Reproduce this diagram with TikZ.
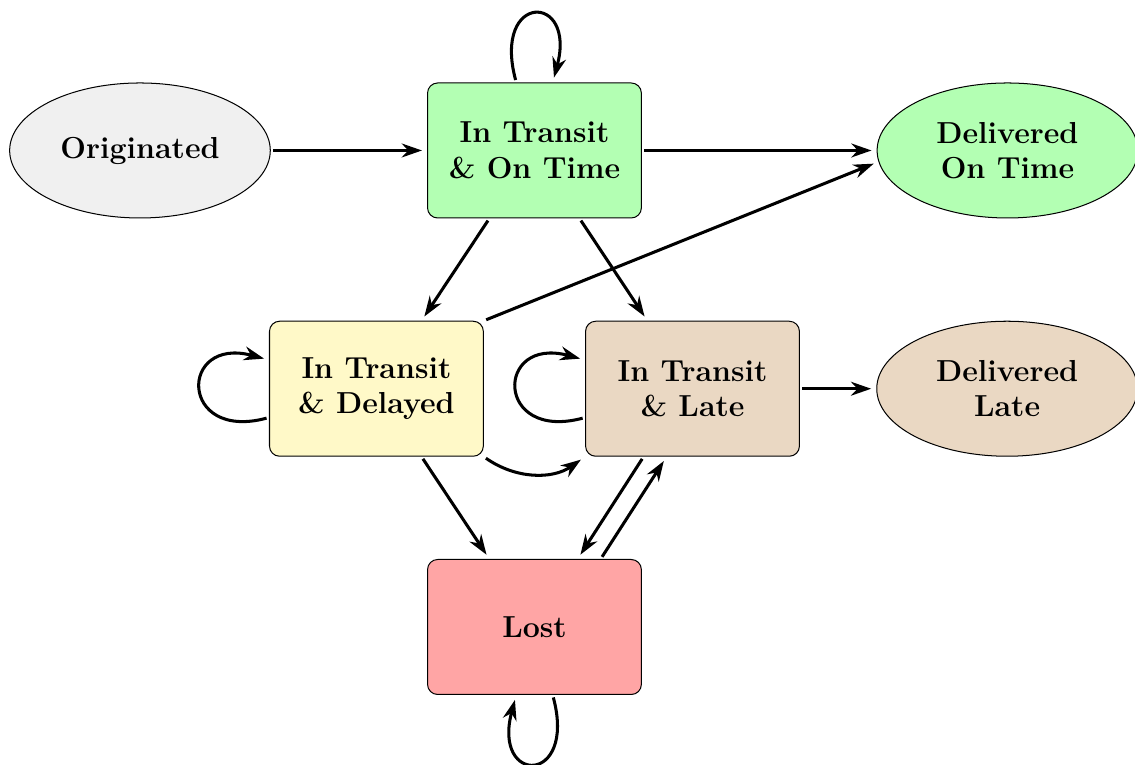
\documentclass[tikz,border=0pt]{standalone}
\usepackage{xcolor}
\definecolor{startgray}{HTML}{F0F0F0}
\definecolor{ontimegreen}{HTML}{B3FFB3}
\definecolor{delayyellow}{HTML}{FFF9C8}
\definecolor{latetan}{HTML}{EAD8C3}
\definecolor{lostred}{HTML}{FFA5A5}
\usetikzlibrary{positioning,arrows.meta,shapes.geometric}

\begin{document}
\begin{tikzpicture}[font=\large\bfseries,
  state/.style={draw, rounded corners=4pt, align=center, minimum width=2.97cm, minimum height=1.875cm},
  endstate/.style={draw, ellipse, align=center, minimum width=3.62cm, minimum height=1.875cm},
  arr/.style={-{Stealth[length=8pt,width=5.5pt]}, very thick, shorten >=2pt, shorten <=1pt},
  every loop/.style={looseness=1, min distance=1.3cm}]
  \useasboundingbox (0,0) rectangle (15.764,-10.625);
  \node[endstate, fill=startgray] (orig) at (1.944,-2.09) {Originated};
  \node[state, fill=ontimegreen, right=2.17cm of orig] (ontime) {In Transit\\ \& On Time};
  \node[endstate, fill=ontimegreen, right=3.26cm of ontime] (dot) {Delivered\\ On Time};
  \node[state, fill=delayyellow, below=1.42cm of ontime, xshift=-2.195cm] (delayed) {In Transit\\ \& Delayed};
  \node[state, fill=latetan, below=1.42cm of ontime, xshift=2.195cm] (late) {In Transit\\ \& Late};
  \node[endstate, fill=latetan, right=1.06cm of late] (dlate) {Delivered\\ Late};
  \node[state, fill=lostred, below=1.42cm of delayed, xshift=2.195cm] (lost) {Lost};
  % transitions
  \draw[arr] (orig) -- (ontime);
  \draw[arr] (ontime) -- (dot);
  \draw[arr] (ontime) -- (delayed);
  \draw[arr] (ontime) -- (late);
  \draw[arr] (delayed.north east) -- (dot.185);
  \draw[arr] (late) -- (dlate);
  \draw[arr] (delayed.south east) to[bend right=35] (late.south west);
  \draw[arr] (delayed) -- (lost);
  \draw[arr] ([xshift=-0.68cm]late.south) -- ([xshift=0.6cm]lost.north);
  \draw[arr] ([xshift=0.92cm]lost.north) -- ([xshift=-0.36cm]late.south);
  % self loops
  \draw[arr] (ontime) to[loop above] (ontime);
  \draw[arr] (delayed) to[loop left] (delayed);
  \draw[arr] (late) to[loop left] (late);
  \draw[arr] (lost) to[loop below] (lost);
\end{tikzpicture}
\end{document}
